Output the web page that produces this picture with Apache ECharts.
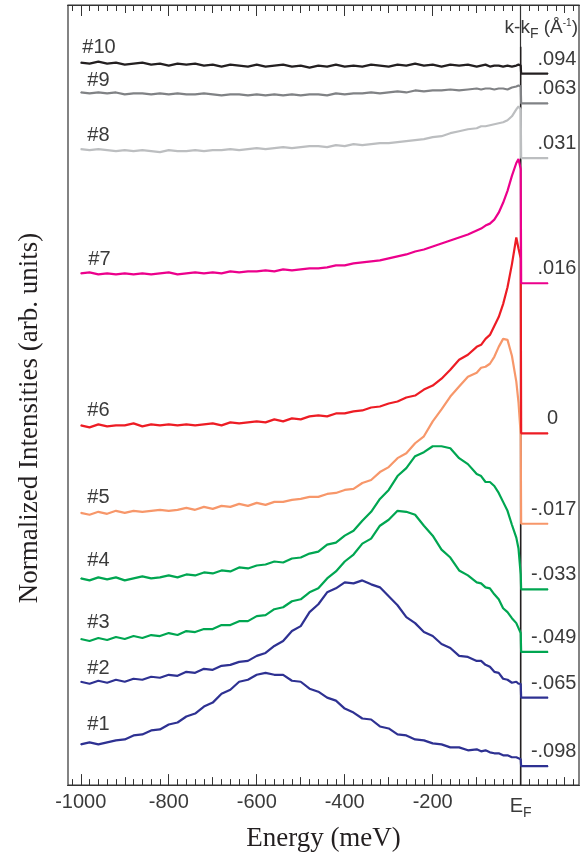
<!DOCTYPE html>
<html><head><meta charset="utf-8">
<script src="https://cdn.jsdelivr.net/npm/echarts@6/dist/echarts.min.js"></script>
<style>html,body{margin:0;padding:0;background:#fff}#c{width:583px;height:857px}</style>
</head><body><div id="c"></div>
<script>
// ---------------- DATA ----------------
// energy grid (meV) below E_F
const energy = [-1000,-980,-960,-940,-920,-900,-880,-860,-840,-820,
  -800,-780,-760,-740,-720,-700,-680,-660,-640,-620,
  -600,-580,-560,-540,-520,-500,-480,-460,-440,-420,
  -400,-380,-360,-340,-320,-300,-280,-260,-240,-220,
  -200,-180,-160,-140,-120,-100,
  -90,-80,-70,-60,-50,-40,-30,-20,-10,-5,0];
// energies of the flat segment above E_F (meV)
const aboveEF = [1, 62];

const spec1 = [4.1,4.3,4.1,4.3,4.5,4.6,5.0,5.1,5.5,5.6, 6.1,6.3,6.9,7.2,7.9,8.3,9.2,9.6,10.4,10.6,
  11.1,11.3,11.1,11.1,10.5,10.4,9.7,9.4,8.8,8.5, 7.7,7.3,6.7,6.6,5.9,5.7,5.1,5.0,4.6,4.5,
  4.2,4.1,3.8,3.8,3.5,3.6, 3.4,3.5,3.3,3.2,3.2,3.0,3.0,2.8,2.8,2.7,2.6];
const spec2 = [10.4,10.2,10.5,10.3,10.6,10.4,10.7,10.6,10.9,10.8, 11.1,11.0,11.4,11.3,11.7,11.6,12.0,12.1,12.4,12.5,
  13.0,13.3,14.0,14.5,15.5,16.0,17.4,18.2,19.4,19.8, 20.4,20.3,20.6,20.2,19.9,19.0,18.1,16.9,16.3,15.4,
  15.0,14.2,13.8,13.0,12.9,12.5, 12.5,12.1,11.9,11.4,11.3,10.7,10.6,10.3,10.4,10.2,10.2];
const spec3 = [14.7,14.5,14.8,14.6,14.9,14.7,15.0,14.8,15.1,15.0, 15.3,15.1,15.5,15.4,15.7,15.7,16.1,16.1,16.5,16.5,
  17.0,17.1,17.7,17.9,18.5,18.7,19.4,19.8,20.8,21.5, 22.5,23.2,24.3,24.8,26.1,26.7,27.6,27.5,27.2,26.1,
  25.1,23.7,22.9,21.6,21.1,20.4, 20.3,19.9,19.8,19.2,18.7,17.8,17.4,16.8,16.3,15.8,15.3];
const spec4 = [20.8,20.6,20.9,20.7,20.9,20.6,20.8,21.0,20.8,20.9, 21.1,20.9,21.2,21.1,21.4,21.3,21.6,21.5,21.9,21.8,
  22.1,22.2,22.5,22.4,22.8,22.9,23.3,23.5,24.2,24.4, 25.1,25.6,26.6,27.5,28.8,29.7,31.1,31.9,33.1,33.5,
  34.1,34.1,33.9,32.9,32.3,31.3, 31.1,30.5,30.5,30.1,29.4,28.5,27.6,26.2,24.9,23.8,21.2];
const spec5 = [27.4,27.2,27.5,27.3,27.6,27.4,27.6,27.5,27.6,27.7, 27.6,27.7,27.9,27.7,28.0,27.8,28.1,28.0,28.3,28.1,
  28.4,28.2,28.5,28.5,28.7,28.8,29.0,29.0,29.3,29.4, 29.7,29.8,30.4,30.7,31.5,32.0,32.9,33.4,34.4,35.1,
  36.6,37.8,39.1,40.1,41.1,41.5, 42.0,42.1,42.4,43.1,44.1,44.9,44.8,43.2,40.6,38.5,35.3];
const spec6 = [36.2,36.0,36.3,36.1,36.2,36.2,36.4,36.1,36.3,36.2, 36.3,36.2,36.3,36.2,36.3,36.4,36.2,36.5,36.4,36.5,
  36.6,36.5,36.8,36.6,36.9,36.8,37.1,37.2,37.1,37.4, 37.4,37.6,37.7,38.0,38.1,38.4,38.6,39.0,39.2,39.8,
  40.2,40.9,41.8,42.8,43.3,44.1, 44.3,44.9,45.3,46.2,47.1,48.4,50.1,52.4,55.1,54.0,53.0];
const spec7 = [51.5,51.6,51.4,51.5,51.4,51.5,51.4,51.5,51.4,51.5, 51.6,51.4,51.5,51.6,51.5,51.6,51.5,51.7,51.6,51.7,
  51.7,51.8,51.7,51.9,51.8,51.9,52.0,52.0,52.1,52.3, 52.3,52.5,52.6,52.7,52.8,53.0,53.2,53.4,53.7,53.9,
  54.2,54.5,54.8,55.1,55.4,55.8, 56.0,56.3,56.5,56.9,57.6,58.6,59.8,61.3,62.6,63.0,62.0];
const spec8 = [64.0,63.9,64.0,63.9,63.8,63.9,63.8,63.9,63.8,63.7, 63.9,63.8,63.8,63.9,63.8,63.9,63.9,64.0,63.9,64.0,
  64.1,64.0,64.1,64.2,64.1,64.2,64.3,64.3,64.2,64.4, 64.3,64.5,64.4,64.5,64.6,64.6,64.7,64.8,64.9,65.0,
  65.2,65.3,65.6,65.8,66.0,66.1, 66.3,66.3,66.4,66.5,66.6,66.7,66.9,67.3,68.0,68.3,68.0];
const spec9 = [69.7,69.6,69.7,69.6,69.7,69.5,69.6,69.6,69.5,69.6, 69.5,69.6,69.5,69.5,69.6,69.5,69.4,69.5,69.5,69.4,
  69.5,69.4,69.5,69.4,69.5,69.4,69.5,69.5,69.4,69.6, 69.5,69.6,69.6,69.7,69.6,69.7,69.8,69.7,69.9,69.8,
  69.9,69.9,70.0,69.9,70.0,70.1, 70.0,70.1,70.1,70.0,70.1,70.1,70.0,70.2,70.3,70.4,70.3];
const spec10 = [72.7,72.6,72.8,72.6,72.7,72.5,72.6,72.7,72.5,72.6, 72.4,72.6,72.5,72.6,72.4,72.5,72.3,72.5,72.4,72.3,
  72.5,72.3,72.4,72.5,72.3,72.4,72.2,72.4,72.3,72.5, 72.3,72.4,72.3,72.5,72.4,72.3,72.5,72.4,72.6,72.4,
  72.5,72.3,72.5,72.4,72.5,72.3, 72.4,72.5,72.3,72.4,72.4,72.3,72.4,72.3,72.4,72.5,72.4];
// level above E_F for each spectrum
const flatLevel = [1.9, 8.8, 13.4, 19.7, 26.3, 35.4, 50.5, 63.1, 68.6, 71.6];
const curveNames = ['#1','#2','#3','#4','#5','#6','#7','#8','#9','#10'];
const kLabels = ['-.098','-.065','-.049','-.033','-.017','0','.016','.031','.063','.094'];
const majorTicks = [-1000,-800,-600,-400,-200,0];
const midTicks = [-900,-700,-500,-300,-100,100];
const efLineTop = 74.3;

// ---------------- STYLE ----------------
const specs = [spec1,spec2,spec3,spec4,spec5,spec6,spec7,spec8,spec9,spec10];
const colors = ['#2e3192','#2e3192','#00a651','#00a651','#f7976a','#ed1c24','#ec008c','#bcbec0','#808285','#231f20'];
const nameAbove = [19,13,16,17,15,14,13,13,11,15];
const nameDx = [7,7,7,7,7,7,8,7,7,2];
const XMIN = -1029, XMAX = 132.5;
const minorTicks = [];
for (let t = -1020; t <= 120; t += 20) minorTicks.push(t);
const sans = '"Liberation Sans", Arial, sans-serif';
const serif = '"Liberation Serif", "Times New Roman", serif';
const txtColor = '#3a3a3a';
const frame = '#333';

function mkX(pos, ticks, len, withLabels) {
  const ax = {
    type: 'value', position: pos, min: XMIN, max: XMAX,
    axisLine: {show: true, onZero: false, lineStyle: {color: frame, width: 1.2}},
    axisTick: {show: true, inside: true, length: len, customValues: ticks, lineStyle: {color: frame, width: 1}},
    axisLabel: {show: false},
    splitLine: {show: false}
  };
  if (withLabels) {
    ax.axisLabel = {
      show: true, customValues: majorTicks, margin: 7, color: txtColor,
      fontFamily: sans, fontSize: 20,
      formatter: v => v === 0 ? '{e|E}{f|F}' : String(v),
      rich: {e: {fontFamily: sans, fontSize: 20, color: txtColor},
             f: {fontFamily: sans, fontSize: 14, color: txtColor, padding: [14, 0, 0, 0]}}
    };
    ax.name = 'Energy (meV)';
    ax.nameLocation = 'middle';
    ax.nameGap = 37;
    ax.nameTextStyle = {fontFamily: serif, fontSize: 27, color: '#231f20'};
  }
  return ax;
}

const series = specs.map((s, i) => {
  const data = energy.map((e, j) => [e, s[j]]);
  data[0] = {value: data[0], symbol: 'circle', symbolSize: 1,
    label: {show: true, formatter: curveNames[i], position: [nameDx[i], -nameAbove[i]],
    align: 'left', verticalAlign: 'middle', fontFamily: sans, fontSize: 20, color: txtColor}};
  data.push([aboveEF[0], flatLevel[i]]);
  const isZero = kLabels[i] === '0';
  data.push({value: [aboveEF[1], flatLevel[i]], symbol: 'circle', symbolSize: 1,
    label: {show: true, formatter: kLabels[i], position: isZero ? [5, -14] : [29, -14],
    align: isZero ? 'center' : 'right', verticalAlign: 'middle',
    fontFamily: sans, fontSize: 20, color: txtColor}});
  return {
    type: 'line', data: data, showSymbol: true, showAllSymbol: true, symbol: 'none', z: 3,
    lineStyle: {color: colors[i], width: 2.2}, itemStyle: {color: colors[i]},
    label: {show: false}, labelLayout: {hideOverlap: false},
    emphasis: {disabled: true}, silent: true, animation: false
  };
});
series.unshift({
  type: 'line', data: [[0, 0], [0, efLineTop]], symbol: 'none', z: 2,
  lineStyle: {color: '#231f20', width: 1.5}, silent: true, animation: false
});

const option = {
  animation: false,
  backgroundColor: '#fff',
  grid: {left: 68, right: 4, top: 5, bottom: 67, show: true, borderColor: frame, borderWidth: 1.2, backgroundColor: 'transparent'},
  xAxis: [
    mkX('bottom', majorTicks, 11, true),
    mkX('bottom', midTicks, 8, false),
    mkX('bottom', minorTicks, 6, false),
    mkX('top', majorTicks, 11, false),
    mkX('top', midTicks, 8, false),
    mkX('top', minorTicks, 6, false)
  ],
  yAxis: {type: 'value', min: 0, max: 78.5, axisLine: {show: true, lineStyle: {color: frame, width: 1.2}},
    axisTick: {show: false}, axisLabel: {show: false}, splitLine: {show: false}},
  series: series,
  graphic: [
    {type: 'text', x: 30, y: 418, rotation: Math.PI / 2,
     style: {text: 'Normalized Intensities (arb. units)', fontFamily: serif, fontSize: 27, fill: '#231f20',
             align: 'center', verticalAlign: 'middle'}},
    {type: 'text', x: 578, y: 28,
     style: {text: '{a|k-k}{s|F}{a| (Å}{p|-1}{a|)}', align: 'right', verticalAlign: 'middle', fill: txtColor,
             rich: {a: {fontFamily: sans, fontSize: 19, fill: txtColor, color: txtColor},
                    s: {fontFamily: sans, fontSize: 14, fill: txtColor, color: txtColor, padding: [12, 0, 0, 0]},
                    p: {fontFamily: sans, fontSize: 10, fill: txtColor, color: txtColor, padding: [0, 0, 10, 0]}}}}
  ]
};
const chart = echarts.init(document.getElementById('c'), null, {renderer: 'canvas'});
chart.setOption(option);
</script></body></html>
